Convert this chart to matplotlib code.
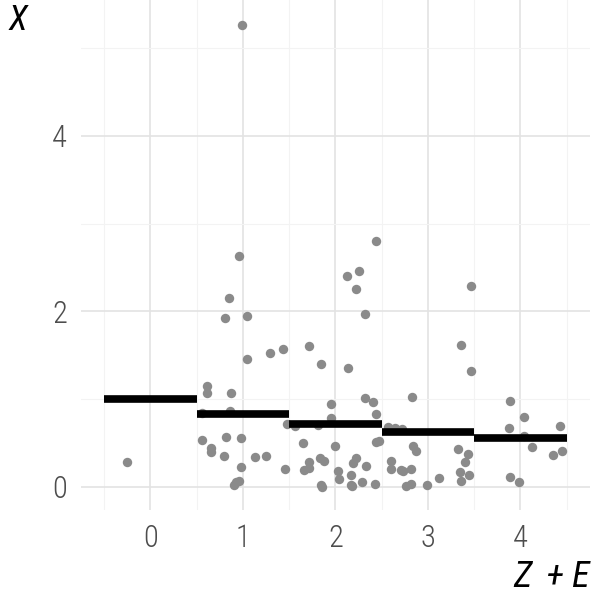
import matplotlib
matplotlib.use("Agg")
import matplotlib.pyplot as plt
from matplotlib import font_manager

# observed points (Z + E jittered, X)
pt_x = [-0.25,
        0.957, 0.846, 0.803, 1.04, 1.043, 1.294, 1.437, 0.61, 0.61, 0.874,
        0.559, 0.857, 1.473, 0.559, 0.82, 0.982, 0.65, 0.65, 0.80, 1.129,
        1.25, 0.982, 1.455, 0.907, 0.93, 0.957, 0.989,
        2.437, 2.129, 2.25, 2.218, 2.315, 1.717, 1.846, 2.136, 1.953, 2.315,
        2.41, 2.437, 1.953, 1.566, 1.81, 1.652, 1.996, 2.44, 2.47, 1.66,
        1.71, 1.71, 1.83, 1.88, 2.03, 2.04, 2.17, 2.218, 2.19, 2.33, 2.17,
        2.18, 2.29, 2.43, 1.846, 1.85,
        2.57, 2.64, 2.72, 2.83, 2.84, 2.87, 2.60, 2.60, 2.71, 2.73, 2.82,
        2.76, 2.82, 2.99, 3.12, 3.355, 3.47, 3.47, 3.33, 3.43, 3.405, 3.35,
        3.44, 3.355,
        3.89, 4.04, 3.88, 4.04, 4.13, 4.43, 4.35, 4.45, 3.89, 3.99]
pt_y = [0.28,
        2.63, 2.15, 1.92, 1.95, 1.455, 1.53, 1.57, 1.155, 1.07, 1.07,
        0.845, 0.87, 0.72, 0.534, 0.568, 0.56, 0.44, 0.40, 0.356, 0.337,
        0.348, 0.227, 0.205, 0.02, 0.05, 0.07, 5.27,
        2.80, 2.40, 2.455, 2.26, 1.97, 1.60, 1.40, 1.36, 0.947, 1.01,
        0.966, 0.83, 0.78, 0.69, 0.71, 0.497, 0.47, 0.51, 0.52, 0.197,
        0.28, 0.22, 0.326, 0.30, 0.186, 0.09, 0.136, 0.333, 0.27, 0.235, 0.02,
        0.008, 0.057, 0.034, 0.026, 0.0,
        0.685, 0.67, 0.66, 1.02, 0.466, 0.41, 0.295, 0.20, 0.193, 0.186, 0.20,
        0.004, 0.03, 0.026, 0.10, 1.617, 2.284, 1.315, 0.43, 0.378, 0.288, 0.174,
        0.136, 0.072,
        0.98, 0.80, 0.667, 0.58, 0.45, 0.69, 0.36, 0.41, 0.117, 0.057]

# conditional expectation per Z + E level
levels = [0, 1, 2, 3, 4]
level_mean = [1.0, 0.833, 0.714, 0.625, 0.556]

installed = {f.name for f in font_manager.fontManager.ttflist}
fams = [f for f in ['Roboto Condensed', 'Roboto'] if f in installed]
plt.rcParams['font.family'] = fams + ['DejaVu Sans']

fig = plt.figure(figsize=(6, 6), dpi=100)
ax = fig.add_axes([0.135, 0.15, 0.848, 0.85])

ax.scatter(pt_x, pt_y, s=46, color='#8a8a8a', linewidths=0, zorder=3)
ax.hlines(level_mean, [l - 0.5 for l in levels], [l + 0.5 for l in levels],
          color='black', linewidth=5.5, zorder=4)

ax.set_xlim(-0.75, 4.75)
ax.set_ylim(-0.264, 5.55)
ax.set_xticks(levels)
ax.set_yticks([0, 2, 4])
ax.set_xticks([-0.5, 0.5, 1.5, 2.5, 3.5, 4.5], minor=True)
ax.set_yticks([1, 3, 5], minor=True)
ax.grid(which='major', color='#e3e3e3', linewidth=1.2)
ax.grid(which='minor', color='#f3f3f3', linewidth=0.8)
ax.set_axisbelow(True)
for s in ax.spines.values():
    s.set_visible(False)
ax.tick_params(which='both', length=0)
ax.tick_params(axis='both', labelsize=22, labelcolor='#4d4d4d', pad=10)
for lab in ax.get_xticklabels() + ax.get_yticklabels():
    lab.set_fontweight('light')

fig.text(0.983, 0.038, 'Z\u2009 + E', ha='right', va='center', fontsize=26,
         style='italic', color='black')
fig.text(0.015, 0.966, 'X', ha='left', va='center', fontsize=25,
         style='italic', color='black')

fig.savefig('out.png', dpi=100)
